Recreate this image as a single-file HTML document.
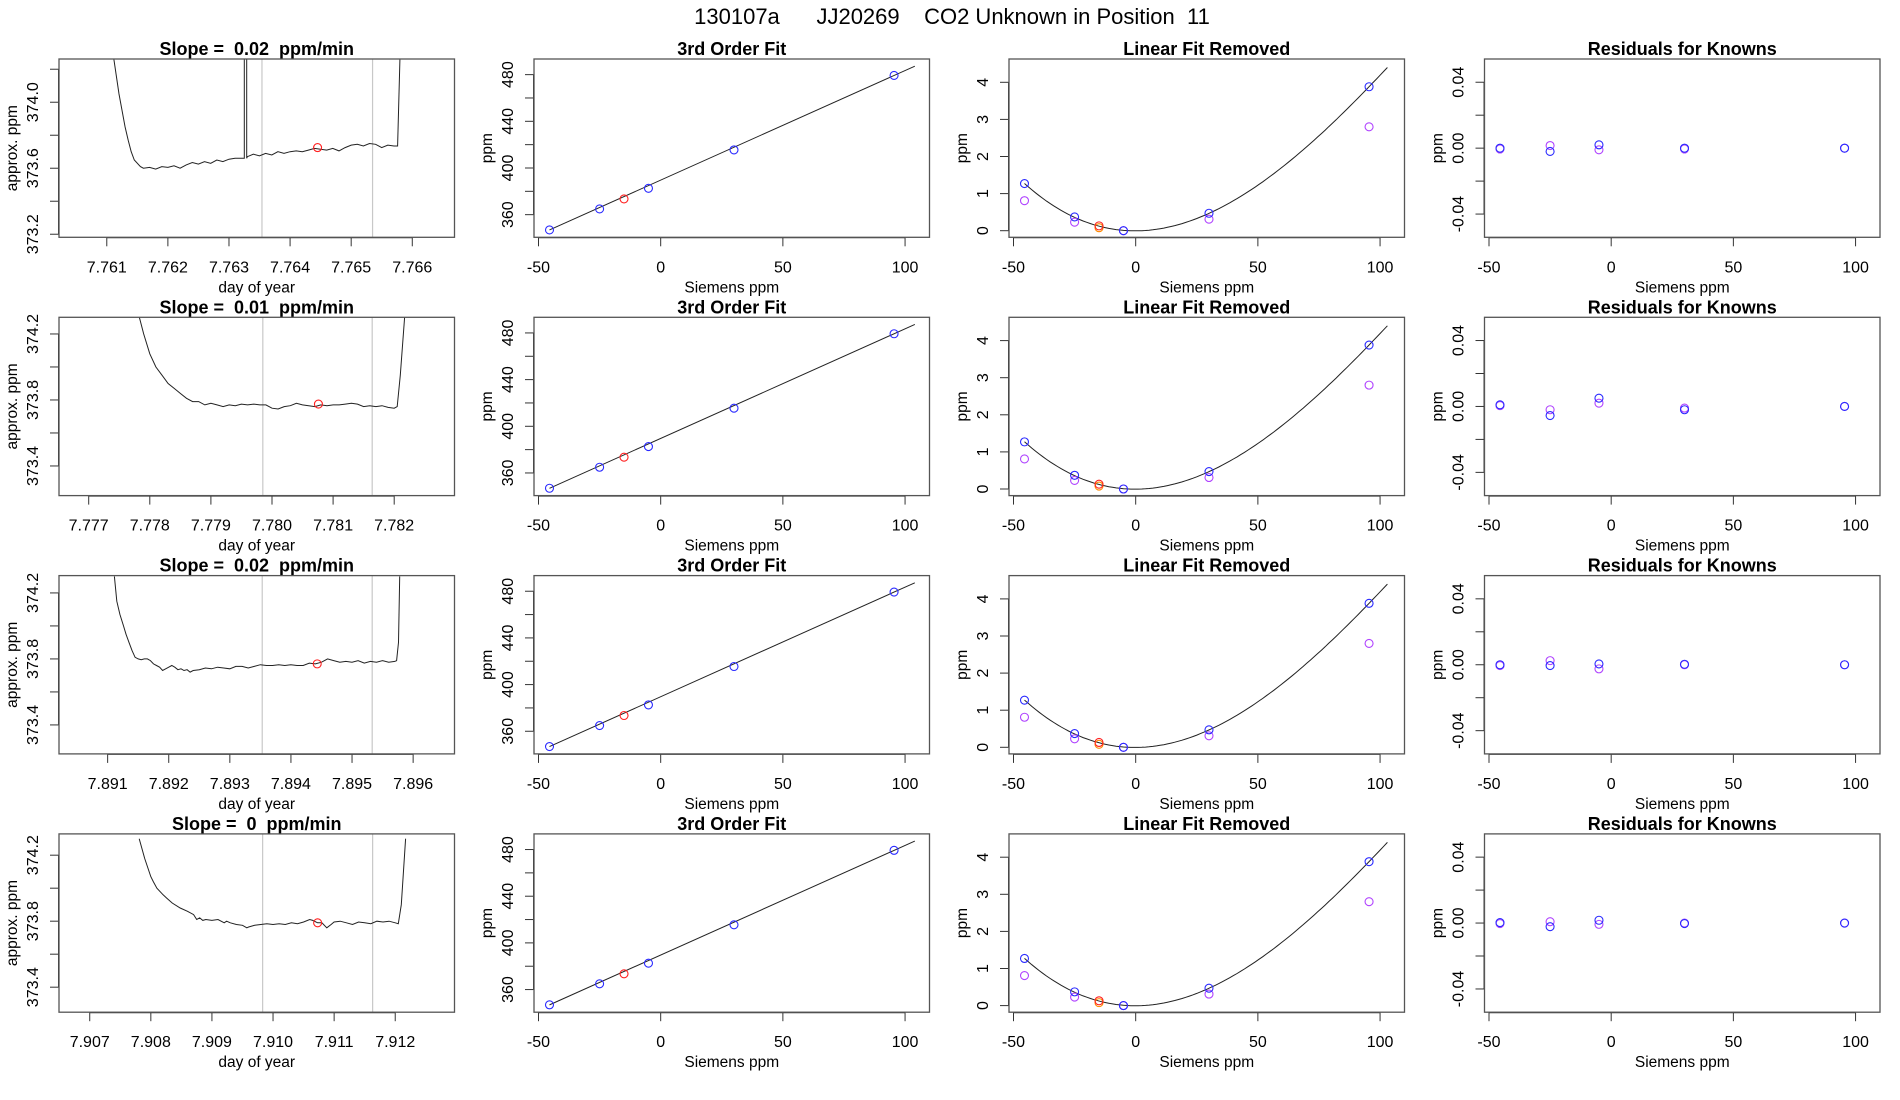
<!DOCTYPE html>
<html><head><meta charset="utf-8">
<style>
html,body{margin:0;padding:0;background:#fff;}
svg{display:block;font-family:"Liberation Sans",sans-serif;}
</style></head>
<body>
<svg id="chart" width="1900" height="1100" viewBox="0 0 1900 1100" xmlns="http://www.w3.org/2000/svg" xml:space="preserve">
<rect width="1900" height="1100" fill="#fff"/>
<text x="952" y="24" text-anchor="middle" font-size="22" fill="#000" xml:space="preserve">130107a      JJ20269    CO2 Unknown in Position  11</text>
<g id="plots"></g>
</svg>
<script>
// ---- Data ----
const slopeLabels = ["0.02", "0.01", "0.02", "0"];
const dayStarts = [7.761, 7.777, 7.891, 7.907];
const dayLeftPad = [0.000782, 0.000486, 0.000796, 0.000503];
const traceK1 = [1,2,3,3.5,4,4.5,5.5,6,7,8,9,10,11,12,13,14,15,16,17,18,19,20,21,22,22.5,22.5,22.9,22.9,23,24,25,26,27,28,29,30,31,32,33,34,35,36,37,38,39,40,41,42,43,44,45,46,47,47.6,48];
const traceV1 = [374.3,374.05,373.85,373.77,373.70,373.65,373.61,373.60,373.605,373.595,373.61,373.605,373.615,373.60,373.62,373.635,373.625,373.64,373.63,373.65,373.64,373.655,373.66,373.66,373.66,374.3,374.3,373.66,373.67,373.685,373.675,373.69,373.68,373.70,373.69,373.70,373.705,373.70,373.71,373.72,373.715,373.71,373.72,373.705,373.725,373.74,373.745,373.735,373.75,373.745,373.725,373.74,373.735,373.735,374.3];
const traceK2 = [8.3,9,10,11,12,13,14,15,16,17,18,19,20,21,22,23,24,25,26,27,28,29,30,31,32,33,34,35,36,37,38,39,40,41,42,43,44,45,46,47,48,49,50,50.5,51,51.7];
const traceV2 = [374.3,374.2,374.08,374.0,373.95,373.90,373.87,373.84,373.81,373.79,373.79,373.77,373.78,373.77,373.76,373.77,373.765,373.775,373.77,373.775,373.77,373.77,373.75,373.745,373.76,373.765,373.78,373.77,373.765,373.76,373.77,373.765,373.77,373.77,373.775,373.78,373.775,373.76,373.765,373.76,373.765,373.755,373.75,373.76,373.95,374.3];
const traceK3 = [1.1,1.5,2,2.6,3,3.5,4,4.5,5,5.5,6,6.5,7,7.5,8,8.5,9,9.5,10,10.5,11,11.5,12,12.5,13,13.5,14,15,16,17,18,19,20,21,22,23,24,25,26,27,28,29,30,31,32,33,34,35,36,37,38,39,40,41,42,43,44,45,46,47,47.3,47.6,47.8];
const traceV3 = [374.3,374.15,374.07,374.0,373.95,373.9,373.85,373.81,373.80,373.795,373.80,373.80,373.79,373.77,373.76,373.75,373.73,373.74,373.75,373.76,373.75,373.735,373.74,373.73,373.735,373.72,373.73,373.735,373.745,373.74,373.75,373.745,373.74,373.755,373.755,373.745,373.755,373.765,373.76,373.76,373.765,373.76,373.765,373.76,373.76,373.775,373.77,373.78,373.80,373.79,373.78,373.785,373.78,373.79,373.775,373.785,373.78,373.79,373.78,373.785,373.79,373.9,374.3];
const traceK4 = [8.1,9,10,10.4,11,12,12.6,13.5,14.8,16,17,17.5,18,18.5,19,20,21,22,22.4,23,24,25,25.7,26,27,28,29,30,31,32,33,34,35,36,36.5,37.3,38,38.8,39.5,40,41,42,43,44,45,46,47,48,49,50,50.5,51,51.7];
const traceV4 = [374.3,374.18,374.07,374.04,374.0,373.96,373.94,373.91,373.88,373.86,373.84,373.81,373.82,373.805,373.81,373.805,373.81,373.79,373.80,373.79,373.78,373.775,373.76,373.765,373.775,373.78,373.785,373.78,373.785,373.78,373.79,373.785,373.795,373.81,373.805,373.79,373.79,373.76,373.78,373.795,373.80,373.79,373.78,373.795,373.79,373.785,373.80,373.795,373.80,373.79,373.785,373.9,374.3];
const unknownK = [34.5, 37.6, 34.3, 37.3];
const unknownPpm = [373.725, 373.775, 373.77, 373.79];
const vlineA = [25.4, 28.5, 25.3, 28.3];
const vlineB = [43.5, 46.4, 43.3, 46.3];
const ppmTop = [374.262, 374.301, 374.305, 374.329];

const knownX = [-45.5, -25, -5, 30, 95.5];
const knownY = [346.9, 364.9, 382.6, 415.5, 479.3];
const unknownX = -15;
const unknownY = 373.5;
const fitLineEnds = [-45.5, 104];
const linSlope = 0.939;
const linIntercept = 389.6;

const removedBlue = [1.27, 0.37, 0.0, 0.47, 3.88];
const removedPurple = [0.81, 0.23, 0.0, 0.31, 2.8];
const removedOrange = 0.08;
const removedRed = 0.13;

const residBlue1 = [0.0, -0.002, 0.002, 0.0, 0.0];
const residPurple1 = [-0.0005, 0.0016, -0.001, -0.0005, 0.0];
const residBlue2 = [0.001, -0.0055, 0.005, -0.002, 0.0];
const residPurple2 = [0.0005, -0.002, 0.002, -0.001, 0.0];
const residBlue3 = [0.0, -0.0005, 0.0005, 0.0003, 0.0];
const residPurple3 = [-0.0005, 0.0025, -0.0025, 0.0, 0.0];
const residBlue4 = [0.0003, -0.0022, 0.0017, -0.0003, 0.0];
const residPurple4 = [-0.0003, 0.0008, -0.0008, 0.0, 0.0];

const ticks1Labeled = [[373.2,373.6,374.0],[373.4,373.8,374.2],[373.4,373.8,374.2],[373.4,373.8,374.2]];
const ticks1All = [[373.2,373.4,373.6,373.8,374.0,374.2],[373.4,373.6,373.8,374.0,374.2],[373.4,373.6,373.8,374.0,374.2],[373.4,373.6,373.8,374.0,374.2]];
const xTicksSiemens = [-50, 0, 50, 100];
const ticks2 = [360,380,400,420,440,460,480];
const ticks2Labeled = [360,400,440,480];
const ticks3 = [0,1,2,3,4];
const ticks4 = [-0.04,-0.02,0,0.02,0.04];
const ticks4Labels = ["-0.04", "", "0.00", "", "0.04"];

const traceKs = [traceK1, traceK2, traceK3, traceK4];
const traceVs = [traceV1, traceV2, traceV3, traceV4];
const residBs = [residBlue1, residBlue2, residBlue3, residBlue4];
const residPs = [residPurple1, residPurple2, residPurple3, residPurple4];

// ---- Layout ----
const NS = "http://www.w3.org/2000/svg";
const root = document.getElementById('plots');
const rowTop = [59, 317.3, 575.6, 833.9];
const PH = 178.3, PW = 395.5;
const colLeft = [59, 534, 1009, 1484.5];
const BLUE = "#2a2aff", PURPLE = "#b044ff", RED = "#ff2020", ORANGE = "#ff8a00";

function mk(tag, attrs, parent) {
  const e = document.createElementNS(NS, tag);
  for (const k in attrs) e.setAttribute(k, attrs[k]);
  (parent || root).appendChild(e);
  return e;
}
function txt(parent, s, x, y, size, opts) {
  const t = mk('text', Object.assign({x: x, y: y, 'font-size': size, 'text-anchor': 'middle', fill: '#000'}, opts || {}), parent);
  t.setAttribute('style', 'white-space:pre');
  t.textContent = s;
  return t;
}
function cubicFit(xs, ys) {
  const n = 4, A = [], b = [];
  for (let i = 0; i < n; i++) { A.push(new Array(n).fill(0)); b.push(0); }
  for (let p = 0; p < xs.length; p++) {
    for (let i = 0; i < n; i++) {
      b[i] += Math.pow(xs[p], i) * ys[p];
      for (let j = 0; j < n; j++) A[i][j] += Math.pow(xs[p], i + j);
    }
  }
  for (let c = 0; c < n; c++) {
    let piv = c;
    for (let r = c + 1; r < n; r++) if (Math.abs(A[r][c]) > Math.abs(A[piv][c])) piv = r;
    [A[c], A[piv]] = [A[piv], A[c]]; [b[c], b[piv]] = [b[piv], b[c]];
    for (let r = 0; r < n; r++) {
      if (r === c) continue;
      const f = A[r][c] / A[c][c];
      for (let j = c; j < n; j++) A[r][j] -= f * A[c][j];
      b[r] -= f * b[c];
    }
  }
  return b.map((v, i) => v / A[i][i]);
}

function panel(ri, ci, name, title, xmin, xmax, ymin, ymax, xlabel, ylabel) {
  const L = colLeft[ci], T = rowTop[ri];
  const g = mk('g', {});
  
  
  const sx = v => L + (v - xmin) / (xmax - xmin) * PW;
  const sy = v => T + PH - (v - ymin) / (ymax - ymin) * PH;
  const cid = 'clip' + ri + ci;
  const cp = mk('clipPath', {id: cid}, g);
  mk('rect', {x: L, y: T, width: PW, height: PH}, cp);
  const t = txt(g, title, L + PW / 2, T - 4, 18, {'font-weight': 'bold'});
  
  
  const xl = txt(g, xlabel, L + PW / 2, T + PH + 55, 15.5);
  
  
  const yl = txt(g, ylabel, 0, 0, 15.5, {transform: `translate(${L - 42},${T + PH / 2}) rotate(-90)`});
  
  
  const plot = mk('g', {'clip-path': `url(#${cid})`}, g);
  return {g, plot, sx, sy, L, T};
}
function xAxis(P, ticks, labels) {
  const ax = mk('g', {stroke: '#333', 'stroke-width': 1}, P.g);
  
  
  const y0 = P.T + PH;
  mk('line', {x1: P.sx(ticks[0]), x2: P.sx(ticks[ticks.length - 1]), y1: y0 + 0.5, y2: y0 + 0.5}, ax);
  ticks.forEach((v, i) => {
    mk('line', {x1: P.sx(v), x2: P.sx(v), y1: y0, y2: y0 + 9}, ax);
    const l = txt(P.g, labels[i], P.sx(v), y0 + 35, 16);
    
    
  });
}
function yAxis(P, ticks, labeled, fmt) {
  const ax = mk('g', {stroke: '#333', 'stroke-width': 1}, P.g);
  
  
  const x0 = P.L;
  mk('line', {x1: x0 - 0.5, x2: x0 - 0.5, y1: P.sy(ticks[0]), y2: P.sy(ticks[ticks.length - 1])}, ax);
  ticks.forEach(v => {
    mk('line', {x1: x0 - 9, x2: x0, y1: P.sy(v), y2: P.sy(v)}, ax);
  });
  labeled.forEach((v, i) => {
    const s = fmt(v, i);
    if (!s) return;
    const l = txt(P.g, s, 0, 0, 16, {transform: `translate(${x0 - 21},${P.sy(v)}) rotate(-90)`});
    
    
  });
}
function box(P) {
  const b = mk('rect', {x: P.L, y: P.T, width: PW, height: PH, fill: 'none', stroke: '#555', 'stroke-width': 1.3}, P.g);
  
  
}
function circ(P, x, y, color, name) {
  const c = mk('circle', {cx: P.sx(x), cy: P.sy(y), r: 4, fill: 'none', stroke: color, 'stroke-width': 1.1}, P.plot);
  
  
}

const coefs = cubicFit(knownX, removedBlue);
const poly = x => coefs[0] + coefs[1] * x + coefs[2] * x * x + coefs[3] * x * x * x;

for (let r = 0; r < 4; r++) {
  const d0 = dayStarts[r];
  const xmin1 = d0 - dayLeftPad[r], xmax1 = xmin1 + 0.006473;
  const P1 = panel(r, 0, 'trace-panel', `Slope =  ${slopeLabels[r]}  ppm/min`, xmin1, xmax1, ppmTop[r] - 178.3 / 165, ppmTop[r], 'day of year', 'approx. ppm');
  [vlineA[r], vlineB[r]].forEach(k => {
    const l = mk('line', {x1: P1.sx(d0 + k * 1e-4), x2: P1.sx(d0 + k * 1e-4), y1: P1.T, y2: P1.T + PH, stroke: '#c8c8c8', 'stroke-width': 1.2}, P1.plot);
    
    
  });
  const ks = traceKs[r], vs = traceVs[r];
  const pts = ks.map((k, i) => `${P1.sx(d0 + k * 1e-4).toFixed(1)},${P1.sy(vs[i]).toFixed(1)}`).join(' ');
  const tr = mk('polyline', {points: pts, fill: 'none', stroke: '#222', 'stroke-width': 1}, P1.plot);
  
  
  circ(P1, d0 + unknownK[r] * 1e-4, unknownPpm[r], RED, 'unknown-mean-point');
  const xt = [0, 1, 2, 3, 4, 5].map(i => d0 + i * 0.001);
  xAxis(P1, xt, xt.map(v => v.toFixed(3)));
  yAxis(P1, ticks1All[r], ticks1Labeled[r], v => v.toFixed(1));
  box(P1);

  const P2 = panel(r, 1, 'fit-panel', '3rd Order Fit', -51.84, 110.0, 340.6, 493.4, 'Siemens ppm', 'ppm');
  const ln = mk('line', {x1: P2.sx(fitLineEnds[0]), y1: P2.sy(linIntercept + linSlope * fitLineEnds[0]), x2: P2.sx(fitLineEnds[1]), y2: P2.sy(linIntercept + linSlope * fitLineEnds[1]), stroke: '#222', 'stroke-width': 1}, P2.plot);
  
  
  knownX.forEach((x, i) => circ(P2, x, knownY[i], BLUE, 'known-point'));
  circ(P2, unknownX, unknownY, RED, 'unknown-point');
  xAxis(P2, xTicksSiemens, xTicksSiemens.map(String));
  yAxis(P2, ticks2, ticks2Labeled, v => String(v));
  box(P2);

  const P3 = panel(r, 2, 'linear-removed-panel', 'Linear Fit Removed', -51.84, 110.0, -0.178, 4.628, 'Siemens ppm', 'ppm');
  let cp = [];
  for (let x = knownX[0]; x <= 104; x += 1.5) cp.push(`${P3.sx(x).toFixed(1)},${P3.sy(poly(x)).toFixed(1)}`);
  const cv = mk('polyline', {points: cp.join(' '), fill: 'none', stroke: '#222', 'stroke-width': 1}, P3.plot);
  
  
  knownX.forEach((x, i) => circ(P3, x, removedPurple[i], PURPLE, 'purple-point'));
  knownX.forEach((x, i) => circ(P3, x, removedBlue[i], BLUE, 'blue-point'));
  circ(P3, unknownX, removedOrange, ORANGE, 'orange-point');
  circ(P3, unknownX, removedRed, RED, 'red-point');
  xAxis(P3, xTicksSiemens, xTicksSiemens.map(String));
  yAxis(P3, ticks3, ticks3, v => String(v));
  box(P3);

  const P4 = panel(r, 3, 'residuals-panel', 'Residuals for Knowns', -51.84, 110.0, -0.0541, 0.0541, 'Siemens ppm', 'ppm');
  knownX.forEach((x, i) => circ(P4, x, residPs[r][i], PURPLE, 'purple-residual'));
  knownX.forEach((x, i) => circ(P4, x, residBs[r][i], BLUE, 'blue-residual'));
  xAxis(P4, xTicksSiemens, xTicksSiemens.map(String));
  yAxis(P4, ticks4, ticks4, (v, i) => ticks4Labels[i]);
  box(P4);
}
</script>
</body></html>
